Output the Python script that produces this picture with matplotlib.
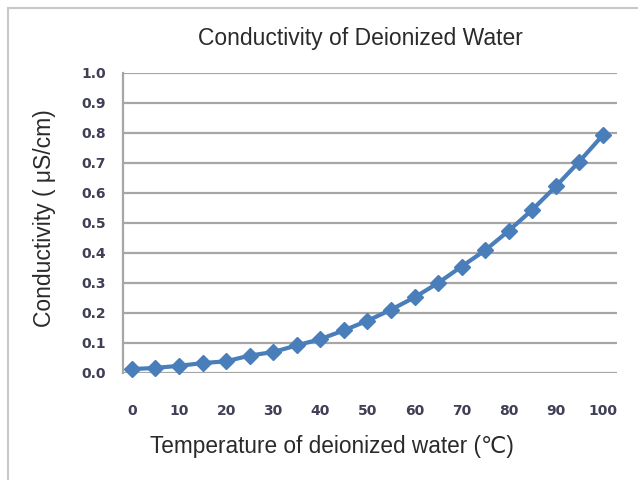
import matplotlib.pyplot as plt
from matplotlib.lines import Line2D

# temperature (deg C) vs conductivity (uS/cm)
temps = [0, 5, 10, 15, 20, 25, 30, 35, 40, 45, 50,
         55, 60, 65, 70, 75, 80, 85, 90, 95, 100]
cond = [0.013, 0.017, 0.024, 0.033, 0.039, 0.058, 0.070, 0.092, 0.113, 0.142, 0.174,
        0.211, 0.252, 0.300, 0.355, 0.409, 0.474, 0.544, 0.622, 0.705, 0.793]
xticks = [0, 10, 20, 30, 40, 50, 60, 70, 80, 90, 100]
yticks = [0.0, 0.1, 0.2, 0.3, 0.4, 0.5, 0.6, 0.7, 0.8, 0.9, 1.0]

plt.rcParams['font.family'] = ['Liberation Sans', 'DejaVu Sans']

fig = plt.figure(figsize=(6.38, 4.8), dpi=100)
ax = fig.add_axes([123 / 638, 1 - 373 / 480, (617 - 123) / 638, 300 / 480])

# thin outer frame, top and left only
fig.add_artist(Line2D([8 / 638, 8 / 638], [0, 1 - 8 / 480], color='#c8c8c8', lw=1.5))
fig.add_artist(Line2D([8 / 638, 1], [1 - 8 / 480, 1 - 8 / 480], color='#c8c8c8', lw=1.5))

for y in yticks:
    ax.axhline(y, color='#a6a6a6', lw=1.6, zorder=1)

ax.plot(temps, cond, color='#4a7ebb', lw=3, marker='D', markersize=8.5,
        markeredgecolor='#4a7ebb', zorder=3, clip_on=False)

ax.set_xlim(-1.9, 103.0)
ax.set_ylim(0, 1.0)
ax.set_xticks(xticks)
ax.set_yticks(yticks)
ax.set_yticklabels([f'{v:.1f}' for v in yticks])

for side in ['top', 'right', 'bottom']:
    ax.spines[side].set_visible(False)
ax.spines['left'].set_color('#a6a6a6')
ax.spines['left'].set_linewidth(1.6)

ax.tick_params(axis='both', length=0, labelsize=10, labelcolor='#3f3f55')
ax.tick_params(axis='x', pad=22)
ax.tick_params(axis='y', pad=12)
for lbl in ax.get_xticklabels() + ax.get_yticklabels():
    lbl.set_fontweight('bold')
    lbl.set_family(['DejaVu Sans'])

fig.text(360 / 638, 1 - 38 / 480, 'Conductivity of Deionized Water',
         ha='center', va='center', fontsize=16.5, color='#2a2a2a')
fig.text(332 / 638, 1 - 447 / 480, 'Temperature of deionized water (\u2103)',
         ha='center', va='center', fontsize=16.3, color='#2a2a2a',
         family=['Liberation Sans', 'DejaVu Sans'])
fig.text(45 / 638, 1 - 218 / 480, 'Conductivity ( \u03bcS/cm)',
         ha='center', va='center', rotation=90, fontsize=16.5, color='#2a2a2a')

fig.savefig('out.png', dpi=100)
